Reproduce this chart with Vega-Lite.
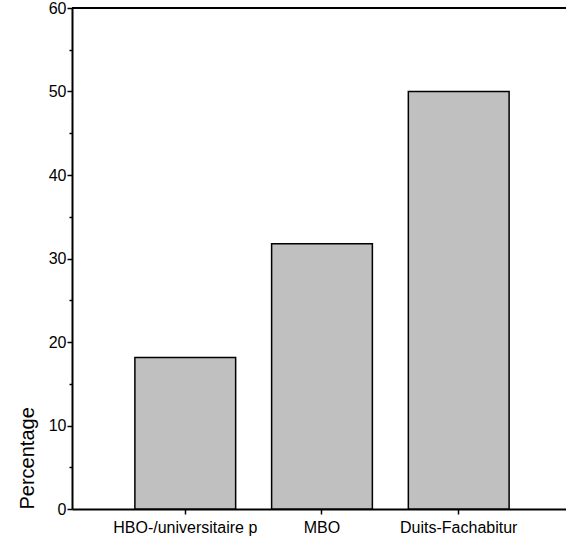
{
  "$schema": "https://vega.github.io/schema/vega-lite/v6.json",
  "width": 494,
  "height": 501,
  "autosize": {"type": "none"},
  "padding": {"left": 72, "top": 8, "right": 0, "bottom": 28},
  "background": "white",
  "config": {
    "view": {"stroke": null},
    "font": "Liberation Sans"
  },
  "data": {
    "values": [
      {"opleiding": "HBO-/universitaire p", "percentage": 18.15},
      {"opleiding": "MBO", "percentage": 31.77},
      {"opleiding": "Duits-Fachabitur", "percentage": 50.0}
    ]
  },
  "layer": [
    {
      "mark": {"type": "bar", "fill": "#c0c0c0", "stroke": "#000000", "strokeWidth": 1.5},
      "encoding": {
        "x": {
          "field": "opleiding",
          "type": "nominal",
          "sort": null,
          "scale": {"paddingInner": 0.263, "paddingOuter": 0.438, "align": 0.525},
          "axis": {
            "title": null,
            "labelAngle": 0,
            "labelFont": "Liberation Sans",
            "labelFontSize": 16,
            "labelColor": "#000000",
            "labelPadding": 5,
            "tickSize": 5,
            "tickWidth": 1.5,
            "tickColor": "#000000",
            "domainColor": "#000000",
            "domainWidth": 2,
            "grid": false
          }
        },
        "y": {
          "field": "percentage",
          "type": "quantitative",
          "scale": {"domain": [0, 60], "nice": false},
          "axis": {
            "title": "Percentage",
            "titleFont": "Liberation Sans",
            "titleFontSize": 20,
            "titleFontWeight": "normal",
            "titleColor": "#000000",
            "titleAnchor": "start",
            "titlePadding": 11,
            "values": [0, 5, 10, 15, 20, 25, 30, 35, 40, 45, 50, 55, 60],
            "labelExpr": "datum.value % 10 === 0 ? datum.label : ''",
            "labelFont": "Liberation Sans",
            "labelFontSize": 16,
            "labelColor": "#000000",
            "labelPadding": 1,
            "labelFlush": false,
            "labelOverlap": false,
            "tickSize": {"condition": {"test": "datum.value % 10 === 0", "value": 5}, "value": 3},
            "tickWidth": 1.5,
            "tickColor": "#000000",
            "domainColor": "#000000",
            "domainWidth": 2,
            "grid": false
          }
        }
      }
    },
    {
      "mark": {"type": "rule", "stroke": "#000000", "strokeWidth": 2},
      "encoding": {
        "y": {"datum": 60}
      }
    }
  ]
}
